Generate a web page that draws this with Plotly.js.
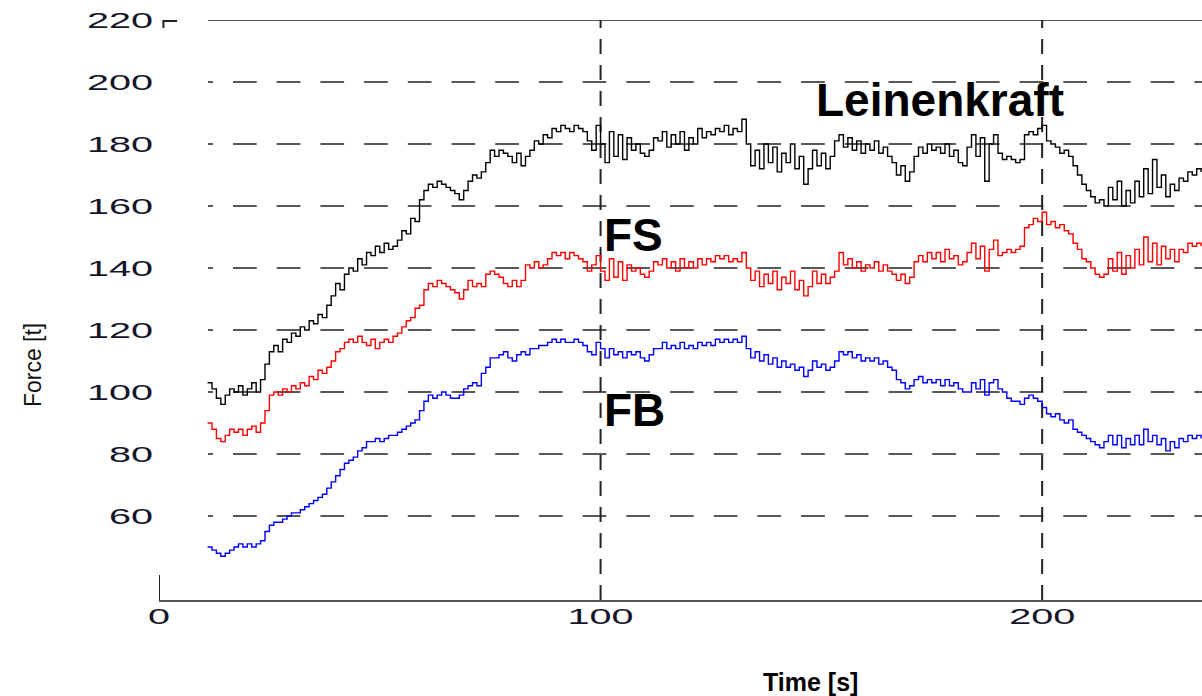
<!DOCTYPE html>
<html>
<head>
<meta charset="utf-8">
<script src="https://cdn.plot.ly/plotly-3.0.1.min.js"></script>
<style>
  html, body { margin: 0; padding: 0; background: #fff; }
  #chart { width: 1202px; height: 696px; }
  g.ytick { transform-box: fill-box; transform-origin: 100% 50%; transform: scaleX(1.8); }
  g.xtick { transform-box: fill-box; transform-origin: 50% 50%; transform: scaleX(1.8); }
</style>
</head>
<body>
<div id="chart"></div>
<script>
// ---- data, one sample per second starting at t = 11 s ----
const timeStart = 11;

const leinenkraft = [
  103, 101, 98, 96, 99, 101, 100, 102, 99, 101,
  103, 100, 104, 109, 113, 115, 113, 117, 116, 119,
  118, 121, 120, 123, 122, 125, 124, 128, 131, 135,
  133, 138, 140, 139, 143, 141, 145, 144, 147, 145,
  148, 146, 147, 149, 152, 151, 156, 155, 162, 165,
  167, 166, 168, 167, 166, 165, 164, 162, 165, 168,
  170, 169, 171, 174, 178, 176, 178, 177, 176, 174,
  177, 173, 176, 178, 181, 180, 183, 182, 185, 184,
  186, 185, 184, 186, 185, 184, 181, 178, 186, 180,
  174, 184, 176, 183, 175, 182, 178, 180, 177, 176,
  178, 182, 181, 184, 179, 183, 180, 184, 178, 182,
  180, 185, 182, 184, 183, 185, 184, 186, 183, 185,
  184, 188, 180, 173, 178, 172, 180, 174, 179, 171,
  177, 174, 180, 172, 176, 167, 172, 178, 173, 177,
  172, 176, 181, 183, 179, 182, 178, 181, 177, 180,
  178, 181, 177, 179, 176, 174, 170, 173, 168, 171,
  176, 179, 177, 180, 178, 179, 177, 180, 176, 178,
  174, 173, 179, 183, 176, 182, 168, 180, 183, 177,
  175, 176, 175, 174, 175, 183, 184, 183, 185, 186,
  181, 180, 179, 177, 178, 176, 173, 170, 167, 165,
  163, 161, 162, 160, 166, 162, 168, 160, 165, 161,
  168, 163, 172, 164, 175, 166, 170, 163, 167, 165,
  169, 168, 171, 170, 172, 171
];

const fs = [
  90, 88, 85, 84, 86, 88, 87, 88, 86, 88,
  89, 87, 90, 94, 99, 100, 99, 101, 100, 102,
  101, 103, 102, 105, 104, 107, 106, 108, 110, 113,
  114, 116, 117, 116, 118, 116, 115, 117, 114, 116,
  117, 116, 118, 119, 121, 123, 124, 127, 128, 133,
  135, 134, 136, 135, 134, 133, 132, 130, 133, 136,
  134, 135, 134, 138, 139, 138, 137, 135, 134, 136,
  134, 136, 141, 140, 142, 140, 141, 143, 145, 144,
  145, 143, 145, 144, 143, 142, 139, 141, 144, 139,
  136, 143, 137, 142, 136, 141, 139, 140, 138, 137,
  139, 142, 141, 143, 140, 142, 139, 143, 140, 142,
  140, 143, 141, 143, 142, 144, 143, 144, 142, 143,
  142, 145, 140, 136, 139, 134, 138, 135, 139, 133,
  137, 135, 139, 133, 136, 131, 134, 139, 135, 138,
  135, 137, 139, 145, 141, 143, 140, 142, 139, 141,
  140, 142, 139, 141, 139, 138, 136, 138, 135, 137,
  142, 144, 142, 145, 143, 145, 142, 146, 143, 144,
  141, 142, 145, 148, 143, 147, 139, 146, 149, 144,
  145, 146, 145, 146, 147, 153, 154, 156, 155, 158,
  154, 155, 153, 154, 152, 151, 148, 146, 143, 142,
  140, 138, 137, 138, 143, 139, 145, 138, 144, 140,
  146, 141, 150, 142, 148, 141, 147, 143, 146, 142,
  146, 145, 148, 147, 148, 147
];

const fb = [
  50, 49, 48, 47, 48, 49, 50, 51, 50, 51,
  50, 51, 52, 55, 57, 58, 58, 59, 60, 61,
  61, 62, 63, 64, 65, 66, 67, 69, 71, 73,
  75, 77, 78, 79, 81, 82, 84, 84, 85, 84,
  85, 86, 86, 87, 88, 89, 90, 91, 94, 97,
  99, 98, 99, 100, 99, 98, 98, 99, 101, 102,
  103, 102, 106, 108, 111, 111, 112, 113, 111, 110,
  112, 113, 112, 114, 114, 115, 115, 116, 117, 116,
  117, 116, 116, 117, 116, 115, 113, 112, 116, 114,
  111, 114, 112, 113, 111, 113, 112, 113, 111, 110,
  112, 114, 114, 116, 114, 115, 114, 116, 114, 115,
  114, 116, 115, 116, 115, 117, 116, 117, 116, 117,
  116, 118, 114, 111, 113, 110, 112, 109, 111, 108,
  110, 108, 109, 107, 108, 105, 107, 110, 108, 109,
  107, 108, 110, 113, 112, 113, 111, 112, 110, 111,
  110, 111, 109, 110, 108, 107, 104, 103, 101, 102,
  104, 105, 103, 104, 103, 104, 102, 104, 102, 103,
  101, 100, 100, 103, 101, 104, 99, 103, 104, 101,
  100, 98, 97, 97, 96, 98, 99, 98, 97, 95,
  93, 92, 93, 91, 90, 91, 88, 87, 86, 85,
  84, 83, 82, 84, 86, 83, 86, 82, 85, 83,
  86, 83, 88, 84, 86, 83, 85, 81, 84, 82,
  85, 84, 86, 85, 86, 85
];

const seriesNames = ['Leinenkraft', 'FS', 'FB'];
const yTickVals = [60, 80, 100, 120, 140, 160, 180, 200, 220];
const xTickVals = [0, 100, 200];
const dashedGridY = [60, 80, 100, 120, 140, 160, 180, 200];
const verticalGridX = [100, 200];

// ---- build ----
const time = leinenkraft.map((_, i) => timeStart + i);

const xMin = 0, xMax = 236.2, yMin = 32.9, yMax = 220;
const gridStart = 11.1;

function mk(y, name, color) {
  return {
    x: time, y: y, name: name, type: 'scatter', mode: 'lines',
    line: { color: color, width: 1.4, shape: 'hv' },
    showlegend: false, hoverinfo: 'x+y'
  };
}

const traces = [
  mk(leinenkraft, seriesNames[0], '#000000'),
  mk(fs, seriesNames[1], '#ff0000'),
  mk(fb, seriesNames[2], '#0000ff')
];

const shapes = [];
dashedGridY.forEach(v => shapes.push({
  type: 'line', xref: 'x', yref: 'y', x0: gridStart, x1: xMax, y0: v, y1: v,
  line: { color: '#222', width: 1.4, dash: '5px,20px,18.7px,0px' }, layer: 'below'
}));
shapes.push({
  type: 'line', xref: 'x', yref: 'y', x0: gridStart, x1: xMax, y0: yMax, y1: yMax,
  line: { color: '#222', width: 1.4 }, layer: 'below'
});
verticalGridX.forEach(v => shapes.push({
  type: 'line', xref: 'x', yref: 'y', x0: v, x1: v, y0: yMin, y1: yMax,
  line: { color: '#222', width: 2, dash: '15px,11px' }, layer: 'below'
}));
// short y-axis stub and the corner mark at the top-left
shapes.push({
  type: 'line', xref: 'x', yref: 'y', x0: 0, x1: 0, y0: yMin, y1: 41,
  line: { color: '#222', width: 2 }
});
shapes.push({
  type: 'path', xref: 'x', yref: 'y', path: 'M 1.0,217.4 L 1.0,219.7 L 4.1,219.7',
  line: { color: '#222', width: 2 }
});

const layout = {
  width: 1202, height: 696,
  margin: { l: 159, r: 0, t: 20, b: 96, pad: 0 },
  paper_bgcolor: '#ffffff', plot_bgcolor: '#ffffff',
  showlegend: false,
  font: { family: 'Liberation Sans, Arial, sans-serif', color: '#111' },
  xaxis: {
    range: [xMin, xMax], tickvals: xTickVals, ticktext: xTickVals.map(String),
    showgrid: false, zeroline: false, showline: true, linecolor: '#555', linewidth: 2,
    ticks: '', ticklabelstandoff: -4,
    tickfont: { family: 'Liberation Sans, Arial, sans-serif', size: 22, color: '#15152a' }
  },
  yaxis: {
    range: [yMin, yMax], tickvals: yTickVals, ticktext: yTickVals.map(String),
    showgrid: false, zeroline: false, showline: false,
    ticks: '', ticklabelstandoff: 5,
    tickfont: { family: 'Liberation Sans, Arial, sans-serif', size: 22, color: '#15152a' }
  },
  shapes: shapes,
  annotations: [
    { text: 'Leinenkraft', xref: 'x', yref: 'y', x: 176.9, y: 194.2, xanchor: 'center', yanchor: 'middle',
      showarrow: false, font: { family: 'Liberation Sans, Arial, sans-serif', size: 46, color: '#000', weight: 'bold' } },
    { text: 'FS', xref: 'x', yref: 'y', x: 100.4, y: 150.6, xanchor: 'left', yanchor: 'middle',
      showarrow: false, font: { family: 'Liberation Sans, Arial, sans-serif', size: 46, color: '#000', weight: 'bold' } },
    { text: 'FB', xref: 'x', yref: 'y', x: 100.4, y: 94.2, xanchor: 'left', yanchor: 'middle',
      showarrow: false, font: { family: 'Liberation Sans, Arial, sans-serif', size: 46, color: '#000', weight: 'bold' } },
    { text: 'Time [s]', xref: 'paper', yref: 'paper', x: 0.6242, y: -0.141, xanchor: 'center', yanchor: 'middle',
      showarrow: false, font: { family: 'Liberation Sans, Arial, sans-serif', size: 25, color: '#000', weight: 'bold' } },
    { text: 'Force [t]', xref: 'paper', yref: 'paper', x: -0.1208, y: 0.405, xanchor: 'center', yanchor: 'middle',
      textangle: -90, showarrow: false, font: { family: 'Liberation Sans, Arial, sans-serif', size: 23, color: '#111' } }
  ]
};

Plotly.newPlot('chart', traces, layout, { staticPlot: true, displayModeBar: false });
</script>
</body>
</html>
